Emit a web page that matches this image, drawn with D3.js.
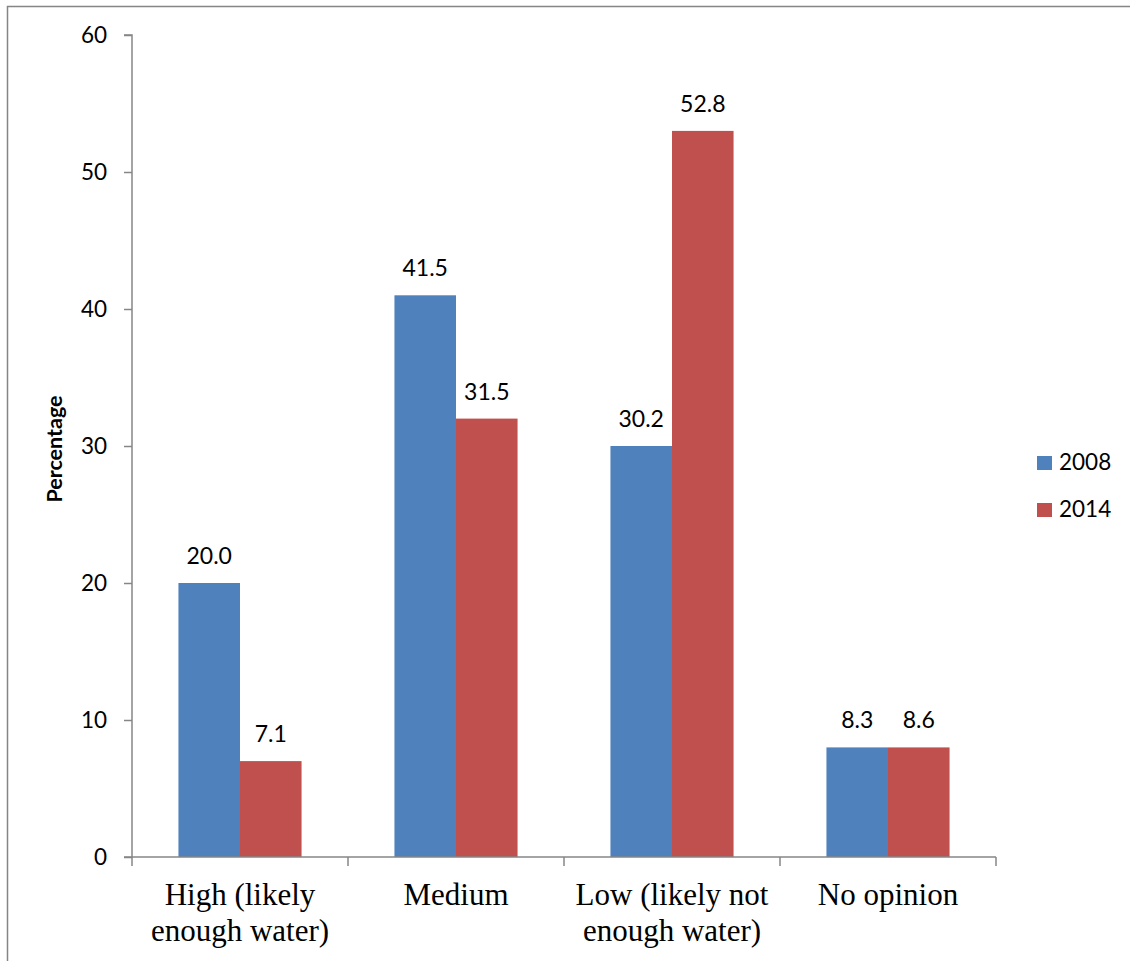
<!DOCTYPE html>
<html><head><meta charset="utf-8">
<script src="https://cdn.jsdelivr.net/npm/d3@7"></script>
<style>html,body{margin:0;padding:0;background:#fff;}</style>
</head><body>
<svg id="c" width="1130" height="961"></svg>
<script>
const categories = [["High (likely", "enough water)"], ["Medium"], ["Low (likely not", "enough water)"], ["No opinion"]];
const seriesNames = ["2008", "2014"];
const colors = ["#4F81BD", "#C0504D"];
// bar heights as drawn
const values2008 = [20, 41, 30, 8];
const values2014 = [7, 32, 53, 8];
// data labels as printed
const labels2008 = ["20.0", "41.5", "30.2", "8.3"];
const labels2014 = ["7.1", "31.5", "52.8", "8.6"];
const yTicks = [0, 10, 20, 30, 40, 50, 60];

const sans = "Lato, 'Open Sans', sans-serif";
const svg = d3.select("#c");
// outer border
svg.append("path").attr("d", "M7.5,961 V6.5 H1130").attr("fill", "none").attr("stroke", "#858585").attr("stroke-width", 1.5);

const x0 = 132, x1 = 996, yTop = 35, yBot = 857;
const y = d3.scaleLinear().domain([0, 60]).range([yBot, yTop]);
const x = d3.scaleBand().domain(d3.range(categories.length)).range([x0, x1]).paddingInner(0.43).paddingOuter(0.215);
const xs = d3.scaleBand().domain([0, 1]).range([0, x.bandwidth()]);
const xTick = d3.scaleLinear().domain([0, categories.length]).range([x0, x1]);

const series = [values2008, values2014];
const labels = [labels2008, labels2014];
series.forEach((vals, s) => {
  svg.append("g").selectAll("rect").data(vals).join("rect")
    .attr("x", (d, i) => x(i) + xs(s))
    .attr("y", d => y(d))
    .attr("width", xs.bandwidth())
    .attr("height", d => yBot - y(d))
    .attr("fill", colors[s]);
  svg.append("g").selectAll("text").data(vals).join("text")
    .attr("x", (d, i) => x(i) + xs(s) + xs.bandwidth() / 2)
    .attr("y", d => y(d) - 19)
    .attr("text-anchor", "middle")
    .attr("font-family", sans)
    .attr("font-size", 23)
    .attr("fill", "#000")
    .text((d, i) => labels[s][i]);
});

// y axis
const yAxis = d3.axisLeft(y).tickValues(yTicks).tickSize(8).tickPadding(17);
const gy = svg.append("g").attr("transform", `translate(${x0},0)`).call(yAxis);
gy.select(".domain").attr("stroke", "#868686").attr("stroke-width", 1.5).attr("d", `M-8,${yTop}H0V${yBot}H-8`);
gy.selectAll(".tick line").attr("stroke", "#868686").attr("stroke-width", 1.5);
gy.selectAll(".tick text").attr("font-family", sans).attr("font-size", 22.5).attr("fill", "#000");

// x axis
const gx = svg.append("g");
gx.append("line").attr("x1", x0).attr("x2", x1).attr("y1", yBot).attr("y2", yBot).attr("stroke", "#868686").attr("stroke-width", 1.5);
gx.selectAll("line.t").data(d3.range(categories.length + 1)).join("line").attr("class", "t")
  .attr("x1", d => xTick(d)).attr("x2", d => xTick(d)).attr("y1", yBot).attr("y2", yBot + 9)
  .attr("stroke", "#868686").attr("stroke-width", 1.5);
categories.forEach((lines, i) => {
  const t = gx.append("text").attr("text-anchor", "middle")
    .attr("font-family", "'Liberation Serif', 'Times New Roman', serif").attr("font-size", 31).attr("fill", "#000");
  lines.forEach((ln, k) => {
    t.append("tspan").attr("x", x(i) + x.bandwidth() / 2).attr("y", 905 + k * 36).text(ln);
  });
});

// y title
svg.append("text").attr("transform", "translate(62,449) rotate(-90)").attr("text-anchor", "middle")
  .attr("font-family", sans).attr("font-weight", "bold").attr("font-size", 21.5).text("Percentage");

// legend
seriesNames.forEach((n, i) => {
  const g = svg.append("g").attr("transform", `translate(1037,${456 + i * 47})`);
  g.append("rect").attr("width", 15).attr("height", 14).attr("fill", colors[i]);
  g.append("text").attr("x", 22).attr("y", 14).attr("font-family", sans).attr("font-size", 22.5).text(n);
});
</script>
</body></html>
